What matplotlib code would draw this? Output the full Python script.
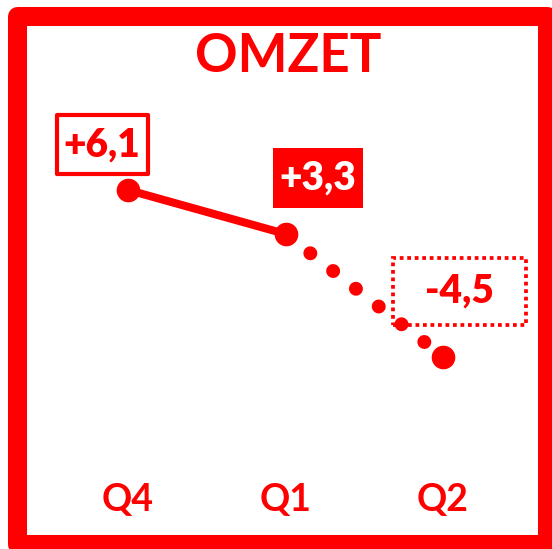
import matplotlib.pyplot as plt
from matplotlib.patches import Rectangle
from matplotlib.transforms import ScaledTranslation

RED = '#FF0000'
plt.rcParams['font.family'] = ['Lato', 'DejaVu Sans']

quarters = ['Q4', 'Q1', 'Q2']
omzet = [6.1, 3.3, -4.5]
labels = ['+6,1', '+3,3', '-4,5']

fig = plt.figure(figsize=(5.52, 5.49), dpi=100)
ax = fig.add_axes([0, 0, 1, 1])
ax.set_xlim(-0.8127, 2.692)
ax.set_ylim(-16.75, 18.19)
ax.axis('off')

# frame around everything
fig.patches.append(Rectangle((16.5 / 552, 1 - 544 / 549), 530.5 / 552, 528.5 / 549,
                             transform=fig.transFigure, fill=False, ec=RED,
                             lw=13.7, joinstyle='round'))

fig.text(288 / 552, 1 - 57 / 549, 'OMZET', color=RED, fontsize=38,
         fontweight='bold', ha='center', va='center')

x = list(range(len(quarters)))
ax.plot(x[:2], omzet[:2], color=RED, lw=5.8, solid_capstyle='round')
ax.plot(x[1:], omzet[1:], color=RED, lw=10, dash_capstyle='round',
        linestyle=(1.9, (0.01, 2.07)))
ax.plot(x, omzet, 'o', color=RED, ms=16, zorder=3)

for xi, q in zip(x, quarters):
    ax.text(xi, 1 - 500 / 549, q, transform=ax.get_xaxis_transform(),
            color=RED, fontsize=27, fontweight='bold', ha='center', va='center')

# label boxes: (dx, dy, w, h) in pixels relative to the point, style
boxes = [(-26, 45, 95, 63, 'outline'),
         (32, 56, 90, 60, 'filled'),
         (16, 65, 136, 70, 'dotted')]
for xi, v, lab, (dx, dy, w, h, style) in zip(x, omzet, labels, boxes):
    tr = fig.dpi_scale_trans + ScaledTranslation(xi, v, ax.transData)
    if style == 'filled':
        rect = Rectangle(((dx - w / 2) / 100, (dy - h / 2) / 100), w / 100, h / 100,
                         transform=tr, fc=RED, ec='none')
        tc = 'white'
    elif style == 'outline':
        rect = Rectangle(((dx - w / 2 + 2) / 100, (dy - h / 2 + 2) / 100),
                         (w - 4) / 100, (h - 4) / 100,
                         transform=tr, fc='white', ec=RED, lw=3, joinstyle='round')
        tc = RED
    else:
        rect = Rectangle(((dx - w / 2 + 1.5) / 100, (dy - h / 2 + 1.5) / 100),
                         (w - 3) / 100, (h - 3) / 100,
                         transform=tr, fc='none', ec=RED, lw=2.7,
                         linestyle=(0, (1, 1)))
        tc = RED
    ax.add_patch(rect)
    ax.text(dx / 100, dy / 100, lab, transform=tr, color=tc, fontsize=28,
            fontweight='heavy', ha='center', va='center', zorder=4)

fig.savefig('out.png', dpi=100)
